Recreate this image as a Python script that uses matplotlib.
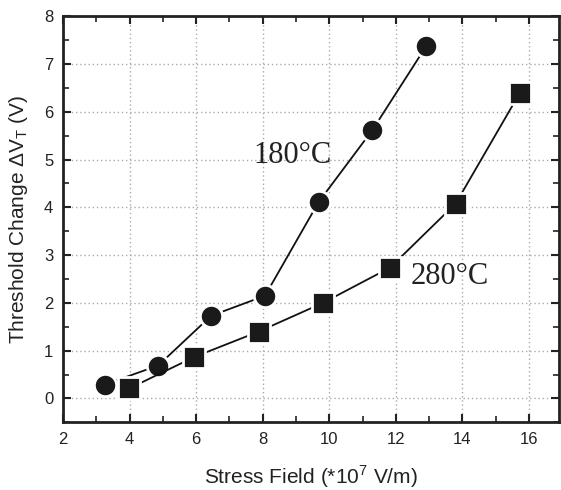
import matplotlib
matplotlib.use("Agg")
import matplotlib.pyplot as plt
from matplotlib.ticker import MultipleLocator

# 180 C data (circles)
field_180 = [3.25, 4.86, 6.45, 8.07, 9.68, 11.29, 12.91]
dvt_180 = [0.29, 0.69, 1.73, 2.15, 4.11, 5.61, 7.37]

# 280 C data (squares)
field_280 = [3.99, 5.95, 7.88, 9.81, 11.83, 13.8, 15.73]
dvt_280 = [0.21, 0.87, 1.40, 2.00, 2.74, 4.08, 6.40]

plt.rcParams['font.family'] = ['Liberation Sans', 'DejaVu Sans']
plt.rcParams['mathtext.fontset'] = 'custom'
plt.rcParams['mathtext.rm'] = 'Liberation Sans'

fig = plt.figure(figsize=(5.61, 4.9), dpi=100)
ax = fig.add_axes([0.1123, 0.138, 0.884, 0.829])

ax.plot(field_180, dvt_180, color='#111111', lw=1.3, marker='o', markersize=16,
        markerfacecolor='#1a1a1a', markeredgecolor='white', markeredgewidth=2, zorder=3)
ax.plot(field_280, dvt_280, color='#111111', lw=1.3, marker='s', markersize=16,
        markerfacecolor='#1a1a1a', markeredgecolor='white', markeredgewidth=2, zorder=3)

ax.text(7.72, 5.09, "180\u00b0C", family='Liberation Serif', fontsize=22,
        va='center', ha='left', color='#222222')
ax.text(12.44, 2.55, "280\u00b0C", family='Liberation Serif', fontsize=22,
        va='center', ha='left', color='#222222')

ax.set_xlim(2, 16.9)
ax.set_ylim(-0.5, 8)
ax.xaxis.set_major_locator(MultipleLocator(2))
ax.xaxis.set_minor_locator(MultipleLocator(1))
ax.yaxis.set_major_locator(MultipleLocator(1))
ax.yaxis.set_minor_locator(MultipleLocator(0.5))
ax.tick_params(which='both', direction='in', top=True, right=True,
               labelsize=12, colors='#222222', pad=7)
ax.tick_params(which='major', length=6, width=1.5)
ax.tick_params(which='minor', length=4, width=1.2)
for s in ax.spines.values():
    s.set_linewidth(2)
    s.set_color('#222222')

ax.grid(which='major', color='#aaaaaa', linestyle=(0, (1, 2)), linewidth=1)
ax.set_axisbelow(True)

ax.set_xlabel(r"Stress Field (*10$^\mathregular{7}$ V/m)", fontsize=15, color='#222222', labelpad=12)
ax.set_ylabel(r"Threshold Change $\Delta$V$_\mathregular{T}$ (V)", fontsize=15, color='#222222', labelpad=10)

fig.savefig("out.png", dpi=100)
